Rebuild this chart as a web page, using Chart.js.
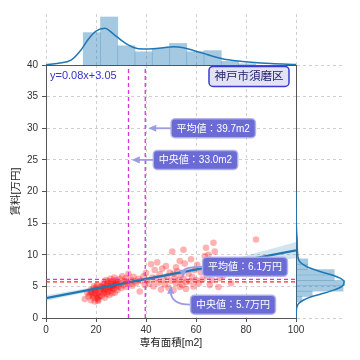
<!DOCTYPE html>
<html>
<head>
<meta charset="utf-8">
<script src="https://cdn.jsdelivr.net/npm/chart.js@4"></script>
<style>
  html, body { margin: 0; padding: 0; background: #fff; }
  #wrap { position: relative; width: 360px; height: 360px; }
  #wrap canvas { position: absolute; left: 0; top: 0; }
</style>
</head>
<body>
<div id="wrap">
  <canvas id="mainChart" width="360" height="360"></canvas>
  <canvas id="topChart" width="360" height="360"></canvas>
  <canvas id="sideChart" width="360" height="360"></canvas>
</div>
<script>
// Scatter data: 専有面積 [m2] vs 賃料 [万円]
const areaX = [
  15.5, 17, 18, 18.5, 19, 19.5, 19.5, 20, 20, 20.5, 21, 21, 21.5, 21.5, 18, 19, 20.5, 17.5, 16.5, 21, 19.8, 20.2, 18.8, 21.8, 17.8, 20.8, 19.2,
  22, 22.3, 22.5, 22.8, 23, 23, 23.3, 23.5, 23.8, 24, 24, 24.3, 24.5, 24.8, 25, 25, 25.3, 25.5, 25.8, 26,
  26, 26.3, 26.5, 26.8, 27, 27, 27.3, 27.5, 27.8, 28, 28, 28.3, 28.5, 28.8, 22.6, 23.6, 24.6, 25.6, 26.6, 27.6,
  29, 29.5, 30, 30, 30.5, 31, 31.5, 32, 32, 32.5, 33, 33.5, 34, 34.5, 35, 35.5,
  36, 37, 37.5, 38, 39, 39.5, 40, 40.5, 41, 42, 42.5,
  43, 43.5, 44, 44.5, 45, 45.5, 46, 46.5, 47, 47.5, 48, 48.5, 49, 49.5,
  50, 50.5, 51, 51, 51.5, 52, 52, 52.5, 53, 53.5, 53.5, 54, 54.5, 55, 55, 55.5, 56, 56,
  57, 57.5, 58, 58.5, 59, 59.5, 60, 60.5, 61, 62, 62.5,
  63.5, 64, 64.5, 65, 65.5, 66, 66.5, 67, 67.5, 68, 69, 69.5,
  71, 74, 84
];
const rentY = [
  3.0, 3.4, 2.8, 3.9, 3.2, 4.3, 2.6, 3.6, 4.8, 3.1, 4.0, 2.9, 4.5, 3.5, 4.1, 4.6, 5.2, 3.7, 4.0, 3.3, 3.9, 4.4, 3.5, 5.0, 4.4, 2.7, 5.0,
  4.2, 3.5, 5.1, 4.6, 3.9, 5.5, 4.4, 3.2, 5.0, 4.7, 6.0, 3.8, 5.3, 4.1, 5.8, 4.5, 3.6, 5.0, 6.2, 4.3,
  5.5, 4.8, 3.9, 5.9, 5.2, 4.6, 6.4, 4.0, 5.6, 4.9, 6.0, 5.3, 4.4, 5.7, 4.9, 4.1, 5.6, 4.7, 5.1, 5.4,
  5.0, 6.2, 5.5, 4.7, 6.6, 5.2, 5.9, 6.3, 4.9, 5.6, 7.0, 5.4, 6.0, 5.1, 6.5, 5.8,
  5.5, 6.2, 4.2, 5.9, 6.6, 5.2, 7.1, 6.0, 5.4, 8.5, 6.4,
  5.0, 7.6, 6.3, 8.8, 5.6, 6.9, 4.5, 7.8, 6.1, 5.3, 8.2, 6.6, 4.8, 7.2,
  5.9, 10.5, 7.0, 4.4, 6.4, 8.0, 5.5, 7.4, 6.0, 9.0, 4.9, 6.8, 5.2, 10.8, 6.2, 8.6, 5.7, 4.6,
  7.0, 5.8, 9.3, 6.5, 5.0, 7.6, 6.0, 8.4, 5.5, 7.2, 6.1,
  9.8, 11.1, 6.6, 10.0, 5.2, 7.9, 6.0, 11.9, 10.5, 7.0, 4.9, 6.3,
  6.7, 5.5, 12.4
];

// Regression line and its confidence band
const fitX = [0, 100];
const fitY = [3.15, 10.7];
const bandX = [0, 20, 40, 60, 80, 100];
const bandUpper = [3.6, 4.95, 6.37, 8.03, 9.85, 12.0];
const bandLower = [2.7, 4.37, 5.97, 7.33, 8.55, 9.45];
const fitLabel = 'y=0.08x+3.05';

// Summary statistics
const meanArea = 39.7;
const medianArea = 33.0;
const meanRent = 6.1;
const medianRent = 5.7;
const regionName = '神戸市須磨区';

// Top marginal: histogram + KDE of 専有面積
const areaBinCenters = [18.35, 25.25, 32.15, 39.05, 45.95, 52.85, 59.75, 66.65, 73.55, 80.45];
const areaBinCounts = [27, 40, 16, 11, 14, 18, 11, 12, 3, 1];
const areaKdeX = [0, 5, 10, 14, 17, 20, 23.5, 27, 31, 35, 39, 43, 47, 51, 55, 59, 63, 67, 71, 76, 82, 90, 100];
const areaKdeY = [0.3, 1.5, 4, 12.5, 21.7, 28.3, 30.6, 25.8, 19.2, 14.6, 13.3, 13.6, 14.4, 15.3, 14.4, 12.1, 9.7, 7.1, 5, 3.5, 2.3, 1.2, 0.4];

// Right marginal: histogram + KDE of 賃料
const rentBinCenters = [2.975, 3.825, 4.675, 5.525, 6.375, 7.225, 8.075, 8.925, 9.775, 10.625, 11.475, 12.325];
const rentBinCounts = [4, 11, 32, 33, 26, 26, 8, 8, 1, 1, 0, 1];
const rentKdeY = [0, 1, 1.8, 2.3, 2.85, 3.4, 3.9, 4.4, 5.0, 5.75, 6.3, 6.8, 7.35, 8.1, 9.1, 10.5, 12.5, 15, 20];
const rentKdeX = [0, 0.2, 0.7, 1.8, 5.2, 10.9, 18.8, 25.6, 31.3, 32.7, 29.9, 24.5, 16.3, 7.5, 2.0, 1.0, 0.7, 0.2, 0];

const FONT = "'Liberation Sans', 'Noto Sans CJK JP', sans-serif";
Chart.defaults.font.family = FONT;
Chart.defaults.font.size = 10;
Chart.defaults.color = '#333';
Chart.defaults.animation = false;
Chart.defaults.plugins.legend.display = false;
Chart.defaults.plugins.tooltip.enabled = false;

const C0 = '#1f77b4';
const GRID = { color: '#c4c4c4', lineWidth: 0.8, tickLength: 4, tickColor: '#555', tickWidth: 1, tickBorderDash: [] };
const BORDER = { display: true, color: '#555', width: 1, dash: [3, 3] };

const pts = (xs, ys) => xs.map((x, i) => ({ x: x, y: ys[i] }));

function vline(v, color) {
  return { type: 'line', data: [{ x: v, y: 0 }, { x: v, y: 40 }], borderColor: color, borderWidth: 1.3, borderDash: [4, 3], pointRadius: 0 };
}
function hline(v, color) {
  return { type: 'line', data: [{ x: 0, y: v }, { x: 100, y: v }], borderColor: color, borderWidth: 1.3, borderDash: [4, 3], pointRadius: 0 };
}

function roundBox(ctx, x, y, w, h, r) {
  ctx.beginPath();
  ctx.moveTo(x + r, y);
  ctx.arcTo(x + w, y, x + w, y + h, r);
  ctx.arcTo(x + w, y + h, x, y + h, r);
  ctx.arcTo(x, y + h, x, y, r);
  ctx.arcTo(x, y, x + w, y, r);
  ctx.closePath();
}

function arrowHead(ctx, fx, fy, tx, ty, size) {
  const a = Math.atan2(ty - fy, tx - fx);
  const bx = tx - size * Math.cos(a), by = ty - size * Math.sin(a);
  const w = size * 0.45;
  ctx.beginPath();
  ctx.moveTo(tx, ty);
  ctx.lineTo(bx + w * Math.sin(a), by - w * Math.cos(a));
  ctx.lineTo(bx - w * Math.sin(a), by + w * Math.cos(a));
  ctx.closePath();
  ctx.fill();
}

// callouts: text box centre and arrow tip in data units
const callouts = [
  { text: '平均値：' + meanArea.toFixed(1) + 'm2', box: [66.9, 30], tip: [40.9, 30], curved: false },
  { text: '中央値：' + medianArea.toFixed(1) + 'm2', box: [59.8, 25], tip: [34.3, 25], curved: false },
  { text: '平均値：' + meanRent.toFixed(1) + '万円', box: [79.6, 8.1], tip: [54.8, 6.35], curved: true },
  { text: '中央値：' + medianRent.toFixed(1) + '万円', box: [74.8, 2.1], tip: [49.9, 5.1], curved: true }
];

const annotatePlugin = {
  id: 'annotate',
  afterDatasetsDraw(chart) {
    const { ctx } = chart;
    const sx = chart.scales.x, sy = chart.scales.y;
    ctx.save();

    // regression equation
    ctx.font = '11px ' + FONT;
    ctx.fillStyle = '#3434c8';
    ctx.textAlign = 'left';
    ctx.textBaseline = 'middle';
    ctx.fillText(fitLabel, sx.getPixelForValue(1.6), sy.getPixelForValue(38.3));

    // region label
    const rx = sx.getPixelForValue(81.2), ry = sy.getPixelForValue(38.2);
    ctx.font = '11.5px ' + FONT;
    const rw = ctx.measureText(regionName).width + 11, rh = 20;
    roundBox(ctx, rx - rw / 2, ry - rh / 2, rw, rh, 4);
    ctx.fillStyle = '#e3e3f5';
    ctx.fill();
    ctx.strokeStyle = '#3a3ad8';
    ctx.lineWidth = 1.5;
    ctx.stroke();
    ctx.fillStyle = '#22226c';
    ctx.textAlign = 'center';
    ctx.fillText(regionName, rx, ry + 0.5);

    // stat callouts
    ctx.font = '10px ' + FONT;
    callouts.forEach(c => {
      const cx = sx.getPixelForValue(c.box[0]), cy = sy.getPixelForValue(c.box[1]);
      const tx = sx.getPixelForValue(c.tip[0]), ty = sy.getPixelForValue(c.tip[1]);
      const w = ctx.measureText(c.text).width + 11, h = 19;
      const startX = cx - w / 2, startY = cy;

      ctx.strokeStyle = '#9c9ce4';
      ctx.fillStyle = '#9c9ce4';
      ctx.lineWidth = 1.8;
      const head = 8;
      if (c.curved) {
        const qx = tx, qy = startY;
        const a = Math.atan2(ty - qy, tx - qx);
        ctx.beginPath();
        ctx.moveTo(startX, startY);
        ctx.quadraticCurveTo(qx, qy, tx - head * 0.7 * Math.cos(a), ty - head * 0.7 * Math.sin(a));
        ctx.stroke();
        arrowHead(ctx, qx, qy, tx, ty, head);
      } else {
        ctx.beginPath();
        ctx.moveTo(startX, startY);
        ctx.lineTo(tx + head * 0.7, ty);
        ctx.stroke();
        arrowHead(ctx, startX, startY, tx, ty, head);
      }

      roundBox(ctx, cx - w / 2, cy - h / 2, w, h, 4);
      ctx.fillStyle = '#6b6bd6';
      ctx.fill();
      ctx.strokeStyle = 'rgba(175,175,235,0.9)';
      ctx.lineWidth = 1.5;
      ctx.stroke();
      ctx.fillStyle = '#ffffff';
      ctx.textAlign = 'center';
      ctx.textBaseline = 'middle';
      ctx.fillText(c.text, cx, cy + 0.5);
    });
    ctx.restore();
  }
};

// Main scatter with regression
new Chart(document.getElementById('mainChart'), {
  type: 'scatter',
  data: {
    datasets: [
      vline(meanArea, '#dd33dd'),
      vline(medianArea, '#dd33dd'),
      hline(meanRent, '#dd33dd'),
      hline(medianRent, '#ff2a2a'),
      { type: 'line', data: pts(fitX, fitY), borderColor: C0, borderWidth: 2.3, pointRadius: 0 },
      { type: 'line', data: pts(bandX, bandUpper), borderColor: 'rgba(0,0,0,0)', borderWidth: 0, pointRadius: 0,
        cubicInterpolationMode: 'monotone', fill: '+1', backgroundColor: 'rgba(31,119,180,0.2)' },
      { type: 'line', data: pts(bandX, bandLower), borderColor: 'rgba(0,0,0,0)', borderWidth: 0, pointRadius: 0,
        cubicInterpolationMode: 'monotone', fill: false },
      { data: pts(areaX, rentY), backgroundColor: 'rgba(255,0,0,0.3)', borderWidth: 0, pointRadius: 3.3 }
    ]
  },
  options: {
    responsive: false,
    events: [],
    layout: { padding: { left: 0, top: 65, right: 64, bottom: 0 } },
    scales: {
      x: {
        type: 'linear', min: 0, max: 100,
        ticks: { stepSize: 20, padding: 2, color: '#333' },
        grid: GRID, border: BORDER,
        title: { display: true, text: '専有面積[m2]', font: { size: 10.5 }, color: '#222', padding: { top: 0, bottom: 11 } },
        afterFit: s => { s.height = 42; }
      },
      y: {
        type: 'linear', min: 0, max: 40,
        ticks: { stepSize: 5, padding: 4, color: '#333' },
        grid: GRID, border: BORDER,
        title: { display: true, text: '賃料[万円]', font: { size: 10.5 }, color: '#222', padding: { top: 10, bottom: 0 } },
        afterFit: s => { s.width = 46; }
      }
    }
  },
  plugins: [annotatePlugin]
});

// Top marginal histogram
new Chart(document.getElementById('topChart'), {
  type: 'bar',
  data: {
    datasets: [
      { type: 'line', data: pts(areaKdeX, areaKdeY), borderColor: C0, borderWidth: 1.5, pointRadius: 0, cubicInterpolationMode: 'monotone' },
      { type: 'bar', data: pts(areaBinCenters, areaBinCounts), backgroundColor: 'rgba(31,119,180,0.4)', borderWidth: 0,
        barPercentage: 1, categoryPercentage: 1 }
    ]
  },
  options: {
    responsive: false,
    events: [],
    layout: { padding: { left: 46, top: 14, right: 64, bottom: 295 } },
    scales: {
      x: {
        type: 'linear', min: 0, max: 100, offset: false,
        ticks: { display: false, stepSize: 20 },
        grid: Object.assign({}, GRID, { offset: false, drawTicks: false }),
        border: BORDER,
        afterFit: s => { s.height = 0; }
      },
      y: { type: 'linear', display: false, min: 0, max: 42.5 }
    }
  }
});

// Right marginal histogram
new Chart(document.getElementById('sideChart'), {
  type: 'bar',
  data: {
    datasets: [
      { type: 'line', indexAxis: 'y', data: pts(rentKdeX, rentKdeY), borderColor: C0, borderWidth: 1.5, pointRadius: 0, cubicInterpolationMode: 'monotone' },
      { type: 'bar', data: rentBinCenters.map((y, i) => ({ x: rentBinCounts[i], y: y })), backgroundColor: 'rgba(31,119,180,0.4)', borderWidth: 0,
        barPercentage: 1, categoryPercentage: 1 }
    ]
  },
  options: {
    indexAxis: 'y',
    responsive: false,
    events: [],
    layout: { padding: { left: 296, top: 65, right: 15, bottom: 42 } },
    scales: {
      x: { type: 'linear', display: false, min: 0, max: 33.3 },
      y: {
        type: 'linear', min: 0, max: 40, offset: false, position: 'left',
        ticks: { display: false, stepSize: 5 },
        grid: Object.assign({}, GRID, { offset: false, drawTicks: false }),
        border: BORDER,
        afterFit: s => { s.width = 0; }
      }
    }
  }
});
</script>
</body>
</html>
